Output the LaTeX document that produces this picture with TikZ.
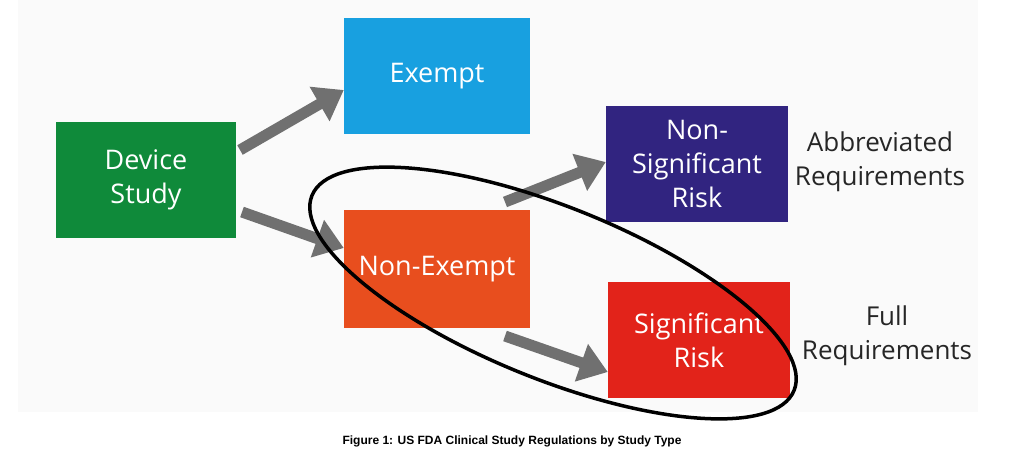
\documentclass[tikz,border=0pt]{standalone}
\usepackage{fontspec}
\setmainfont{Open Sans}
\newfontfamily\capfont{Liberation Sans}
\usetikzlibrary{arrows.meta}
\definecolor{cgreen}{HTML}{0F8A3A}
\definecolor{cblue}{HTML}{18A0E0}
\definecolor{cpurple}{HTML}{312480}
\definecolor{corange}{HTML}{E84E1E}
\definecolor{cred}{HTML}{E2231A}
\definecolor{carrow}{HTML}{707070}
\definecolor{cbg}{HTML}{FAFAFA}
\begin{document}
\begin{tikzpicture}[x=1pt,y=-1pt,
  box/.style={rectangle,minimum width=184pt,minimum height=116pt,text=white,align=center,
    font=\fontsize{27}{34}\selectfont,inner sep=0pt},
  lab/.style={align=center,font=\fontsize{26}{34}\selectfont,text=black!85},
  bigarrow/.style={draw=carrow,line width=11pt,-{Triangle[length=28pt,width=38pt]}}]
\useasboundingbox (0,0) rectangle (1024,464);
\fill[cbg] (18,0) rectangle (978,412);
\node[box,fill=cgreen,minimum width=180pt] (dev) at (146,180) {Device\\Study};
\node[box,fill=cblue,minimum width=186pt] (ex) at (437,76) {Exempt};
\node[box,fill=cpurple,minimum width=182pt] (nsr) at (697,164) {Non-\\Significant\\Risk};
\node[box,fill=corange,minimum width=186pt,minimum height=118pt] (nex) at (437,269) {Non-Exempt};
\node[box,fill=cred,minimum width=182pt] (sr) at (699,340) {Significant\\Risk};
\node[lab] (abr) at (880,162) {Abbreviated\\Requirements};
\node[lab] (full) at (887,336) {Full\\Requirements};
\coordinate (a1) at (240,150); \coordinate (a2) at (242,212);
\coordinate (a3) at (505,202); \coordinate (a4) at (505,336);
\draw[bigarrow] (a1) -- (ex.west|-0,90);
\draw[bigarrow] (a2) -- (nex.west|-0,248);
\draw[bigarrow] (a3) -- (nsr.west|-0,162);
\draw[bigarrow] (a4) -- (sr.west|-0,372);
\draw[line width=3.5pt,black] (553,293) ellipse[x radius=260pt,y radius=86pt,rotate=-22];
\node[font=\capfont\bfseries\fontsize{12}{14}\selectfont] (cap) at (512,441) {Figure 1: US FDA Clinical Study Regulations by Study Type};
\end{tikzpicture}
\end{document}
